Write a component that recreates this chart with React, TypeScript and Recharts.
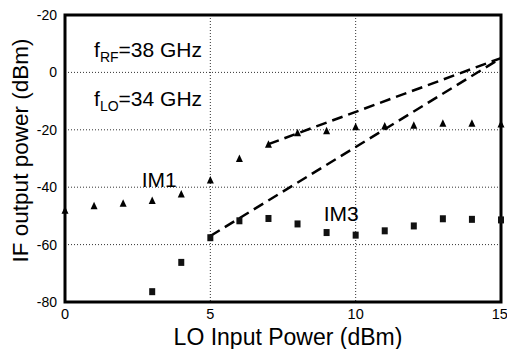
import {
  ComposedChart,
  Scatter,
  XAxis,
  YAxis,
  CartesianGrid,
  ReferenceArea,
  ReferenceDot,
} from 'recharts';

// LO input power sweep (dBm)
const loPower = [0, 1, 2, 3, 4, 5, 6, 7, 8, 9, 10, 11, 12, 13, 14, 15];
// IM1 output (triangles)
const im1Power = [-48, -46.5, -45.6, -44.6, -42.4, -37.5, -30, -25, -21, -20.3, -18.9, -18.7, -18.4, -17.7, -17.7, -18];
// IM3 output (squares), measured from 3 dBm on
const im3Lo = [3, 4, 5, 6, 7, 8, 9, 10, 11, 12, 13, 14, 15];
const im3Power = [-76.4, -66.2, -57.6, -51.7, -50.9, -52.8, -55.8, -56.7, -55.2, -53.5, -51, -51.2, -51.4];
// dashed extrapolation lines
const fit1Lo = [7, 15];
const fit1Power = [-25, 5];
const fit3Lo = [5, 15];
const fit3Power = [-57, 5];

const xTicks = [0, 5, 10, 15];
const yTicks = [-80, -60, -40, -20, 0, 20];
const yTickLabels = ['-80', '-60', '-40', '-20', '0', '-20'];

const FONT = '"Liberation Sans", Arial, Helvetica, sans-serif';

const im1Data = loPower.map((x, i) => ({ x, y: im1Power[i] }));
const im3Data = im3Lo.map((x, i) => ({ x, y: im3Power[i] }));
const fit1Data = fit1Lo.map((x, i) => ({ x, y: fit1Power[i] }));
const fit3Data = fit3Lo.map((x, i) => ({ x, y: fit3Power[i] }));

const Triangle = (props: any) => {
  const { cx, cy } = props;
  return <polygon points={`${cx},${cy - 4} ${cx - 3.5},${cy + 3.5} ${cx + 3.5},${cy + 3.5}`} fill="#000" />;
};

const Square = (props: any) => {
  const { cx, cy } = props;
  return <rect x={cx - 3} y={cy - 3.5} width={6} height={7} fill="#111" />;
};

const NoDot = () => <g />;

// text whose baseline starts at the dot's centre
const Note = (props: any) => {
  const { viewBox, main, sub, rest } = props;
  const x = (viewBox?.x ?? 0) + (viewBox?.width ?? 0) / 2;
  const y = (viewBox?.y ?? 0) + (viewBox?.height ?? 0) / 2;
  return (
    <text x={x} y={y} fontSize={21} fontFamily={FONT} fill="#000">
      {main}
      {sub && (
        <tspan fontSize={14} dy={5}>
          {sub}
        </tspan>
      )}
      {rest && <tspan dy={sub ? -5 : 0}>{rest}</tspan>}
    </text>
  );
};

const YTitle = (props: any) => {
  const { viewBox } = props;
  const cx = 20;
  const cy = viewBox.y + viewBox.height / 2 - 8;
  return (
    <text
      x={cx}
      y={cy}
      transform={`rotate(-90, ${cx}, ${cy})`}
      textAnchor="middle"
      dominantBaseline="central"
      fontSize={22.5}
      fontFamily={FONT}
      fill="#000"
    >
      IF output power (dBm)
    </text>
  );
};

const XTitle = (props: any) => {
  const { viewBox } = props;
  return (
    <text
      x={viewBox.x + viewBox.width / 2 + 5}
      y={viewBox.y + viewBox.height - 4}
      textAnchor="middle"
      fontSize={23}
      fontFamily={FONT}
      fill="#000"
    >
      LO Input Power (dBm)
    </text>
  );
};

export default function App() {
  return (
    <div style={{ position: 'absolute', left: 0, top: 0, background: '#fff' }}>
      <ComposedChart width={507} height={349} margin={{ top: 15, right: 6, left: 0, bottom: 0 }}>
        <CartesianGrid stroke="#333" strokeDasharray="1 2" strokeWidth={1} />
        <XAxis
          type="number"
          dataKey="x"
          domain={[0, 15]}
          ticks={xTicks}
          height={47}
          axisLine={false}
          tickLine={false}
          tickMargin={1}
          tick={{ fill: '#000', fontSize: 14.5, fontFamily: FONT }}
          label={<XTitle />}
        />
        <YAxis
          type="number"
          dataKey="y"
          domain={[-80, 20]}
          ticks={yTicks}
          width={65}
          axisLine={false}
          tickLine={false}
          tickMargin={2}
          tick={{ fill: '#000', fontSize: 14, fontFamily: FONT }}
          tickFormatter={(v: number) => yTickLabels[yTicks.indexOf(v)] ?? String(v)}
          label={<YTitle />}
        />
        <Scatter
          data={fit1Data}
          line={{ stroke: '#000', strokeWidth: 2.5, strokeDasharray: '11 6' }}
          shape={NoDot}
          isAnimationActive={false}
        />
        <Scatter
          data={fit3Data}
          line={{ stroke: '#000', strokeWidth: 2.5, strokeDasharray: '11 6' }}
          shape={NoDot}
          isAnimationActive={false}
        />
        <Scatter data={im1Data} shape={Triangle} isAnimationActive={false} />
        <Scatter data={im3Data} shape={Square} isAnimationActive={false} />
        <ReferenceArea
          x1={0}
          x2={15}
          y1={-80}
          y2={20}
          fill="none"
          stroke="#000"
          strokeWidth={3}
          ifOverflow="visible"
        />
        <ReferenceDot x={1} y={5.4} r={1} fill="none" stroke="none" label={<Note main="f" sub="RF" rest="=38 GHz" />} />
        <ReferenceDot x={1} y={-11.7} r={1} fill="none" stroke="none" label={<Note main="f" sub="LO" rest="=34 GHz" />} />
        <ReferenceDot x={2.64} y={-39.9} r={1} fill="none" stroke="none" label={<Note main="IM1" />} />
        <ReferenceDot x={8.9} y={-51.8} r={1} fill="none" stroke="none" label={<Note main="IM3" />} />
      </ComposedChart>
    </div>
  );
}
